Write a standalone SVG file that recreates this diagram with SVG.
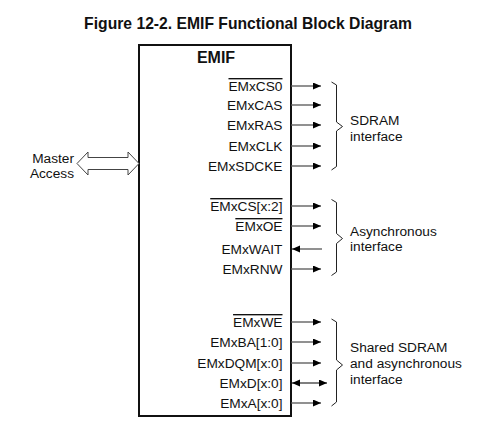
<svg xmlns="http://www.w3.org/2000/svg" width="487" height="440" viewBox="0 0 487 440">
<defs>
<style>
text{font-family:"Liberation Sans",Arial,sans-serif;fill:#111}
.t{font-size:15.7px;font-weight:bold}
.h{font-size:16px;font-weight:bold}
.l{font-size:13.7px;text-anchor:end}
.b{font-size:13.7px}
.ov{text-decoration:overline}
.w{stroke:#555;stroke-width:1.3;fill:none}
.br{stroke:#222;stroke-width:1;fill:none}
</style>
<marker id="ah" markerWidth="9" markerHeight="8" refX="8" refY="3.5" orient="auto-start-reverse" markerUnits="userSpaceOnUse">
<path d="M0,0 L8,3.5 L0,7 z" fill="#000"/>
</marker>
</defs>
<rect width="487" height="440" fill="#fff"/>
<text class="t" x="248" y="29" text-anchor="middle">Figure 12-2. EMIF Functional Block Diagram</text>

<g id="emif">
<rect x="139" y="45" width="152" height="371" fill="#fff" stroke="#111" stroke-width="2"/>
<text class="h" x="216" y="63" text-anchor="middle">EMIF</text>
<text class="l ov" x="282.5" y="91">EMxCS0</text>
<text class="l" x="282.5" y="110">EMxCAS</text>
<text class="l" x="282.5" y="130">EMxRAS</text>
<text class="l" x="282.5" y="151">EMxCLK</text>
<text class="l" x="282.5" y="171">EMxSDCKE</text>
<text class="l ov" x="282.5" y="211">EMxCS[x:2]</text>
<text class="l ov" x="282.5" y="231">EMxOE</text>
<text class="l" x="282.5" y="254">EMxWAIT</text>
<text class="l" x="282.5" y="274">EMxRNW</text>
<text class="l ov" x="282.5" y="327">EMxWE</text>
<text class="l" x="282.5" y="347">EMxBA[1:0]</text>
<text class="l" x="282.5" y="368">EMxDQM[x:0]</text>
<text class="l" x="282.5" y="388">EMxD[x:0]</text>
<text class="l" x="282.5" y="408">EMxA[x:0]</text>
</g>

<g id="master">
<text class="b" x="74" y="163" text-anchor="end">Master</text>
<text class="b" x="74" y="177.5" text-anchor="end">Access</text>
</g>

<g id="sdram">
<text class="b" x="350" y="125">SDRAM</text>
<text class="b" x="350" y="140.5">interface</text>
</g>
<g id="async">
<text class="b" x="350" y="236">Asynchronous</text>
<text class="b" x="350" y="251">interface</text>
</g>
<g id="shared">
<text class="b" x="350" y="352">Shared SDRAM</text>
<text class="b" x="350" y="368">and asynchronous</text>
<text class="b" x="350" y="384">interface</text>
</g>

<g id="connectors">
<path d="M77,163.5 L88,152 L88,157.5 L128,157.5 L128,152 L139,163.5 L128,175 L128,169.5 L88,169.5 L88,175 Z" fill="#fff" stroke="#444" stroke-width="1"/>
<line class="w" x1="291" y1="86" x2="321" y2="86" marker-end="url(#ah)"/>
<line class="w" x1="291" y1="105" x2="321" y2="105" marker-end="url(#ah)"/>
<line class="w" x1="291" y1="125" x2="321" y2="125" marker-end="url(#ah)"/>
<line class="w" x1="291" y1="146" x2="321" y2="146" marker-end="url(#ah)"/>
<line class="w" x1="291" y1="166" x2="321" y2="166" marker-end="url(#ah)"/>
<line class="w" x1="291" y1="206" x2="321" y2="206" marker-end="url(#ah)"/>
<line class="w" x1="291" y1="226" x2="321" y2="226" marker-end="url(#ah)"/>
<line class="w" x1="322" y1="249" x2="292" y2="249" marker-end="url(#ah)"/>
<line class="w" x1="291" y1="269" x2="321" y2="269" marker-end="url(#ah)"/>
<line class="w" x1="291" y1="322" x2="321" y2="322" marker-end="url(#ah)"/>
<line class="w" x1="291" y1="342" x2="321" y2="342" marker-end="url(#ah)"/>
<line class="w" x1="291" y1="363" x2="321" y2="363" marker-end="url(#ah)"/>
<line class="w" x1="292" y1="383" x2="327" y2="383" marker-start="url(#ah)" marker-end="url(#ah)"/>
<line class="w" x1="291" y1="403" x2="321" y2="403" marker-end="url(#ah)"/>
<path class="br" d="M331.5,82 L336.5,85 L336.5,122 L342.5,126.5 L336.5,131 L336.5,166.5 L331.5,170"/>
<path class="br" d="M331.5,199.5 L336.5,202.5 L336.5,233.5 L342.5,238.5 L336.5,243.5 L336.5,272 L331.5,275.5"/>
<path class="br" d="M331.5,319 L336.5,322 L336.5,360 L342.5,365 L336.5,370 L336.5,402 L331.5,406"/>
</g>
</svg>
